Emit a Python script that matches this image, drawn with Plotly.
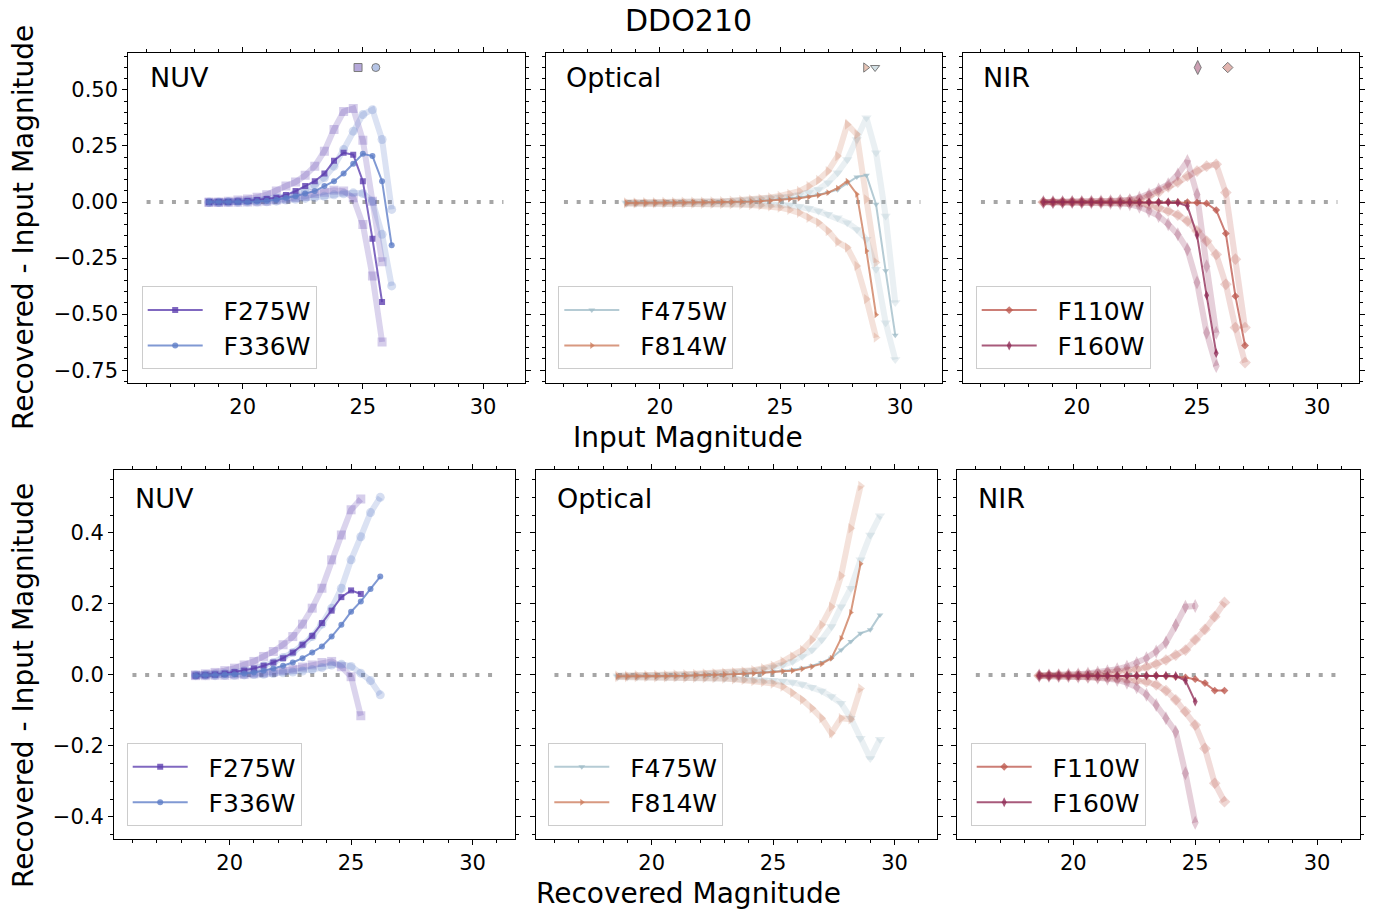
import plotly.graph_objects as go

W, H = 1376, 910
FONT = "DejaVu Sans"

# ---------------- data: top row (x = input magnitude) ----------------
IN_F275W = [18.6, 19.0, 19.4, 19.8, 20.2, 20.6, 21.0, 21.4, 21.8, 22.2, 22.6, 23.0, 23.4, 23.8, 24.2, 24.6, 25.0, 25.4, 25.8]
IN_F336W = [18.6, 19.0, 19.4, 19.8, 20.2, 20.6, 21.0, 21.4, 21.8, 22.2, 22.6, 23.0, 23.4, 23.8, 24.2, 24.6, 25.0, 25.4, 25.8, 26.2]
IN_F475W = [18.6, 19.0, 19.4, 19.8, 20.2, 20.6, 21.0, 21.4, 21.8, 22.2, 22.6, 23.0, 23.4, 23.8, 24.2, 24.6, 25.0, 25.4, 25.8, 26.2,
            26.6, 27.0, 27.4, 27.8, 28.2, 28.6, 29.0, 29.4, 29.8]
IN_F814W = [18.6, 19.0, 19.4, 19.8, 20.2, 20.6, 21.0, 21.4, 21.8, 22.2, 22.6, 23.0, 23.4, 23.8, 24.2, 24.6, 25.0, 25.4, 25.8, 26.2,
            26.6, 27.0, 27.4, 27.8, 28.2, 28.6, 29.0]
IN_F110W = [18.6, 19.0, 19.4, 19.8, 20.2, 20.6, 21.0, 21.4, 21.8, 22.2, 22.6, 23.0, 23.4, 23.8, 24.2, 24.6, 25.0, 25.4, 25.8, 26.2,
            26.6, 27.0]
IN_F160W = [18.6, 19.0, 19.4, 19.8, 20.2, 20.6, 21.0, 21.4, 21.8, 22.2, 22.6, 23.0, 23.4, 23.8, 24.2, 24.6, 25.0, 25.4, 25.8]

IN_MED_F275W = [0.0, 0.0, 0.0, 0.002, 0.005, 0.009, 0.013, 0.019, 0.031, 0.049, 0.071, 0.093, 0.127, 0.184, 0.22, 0.211, 0.093, -0.164, -0.446]
IN_HI_F275W = [0.0, 0.0, 0.003, 0.009, 0.013, 0.021, 0.033, 0.049, 0.071, 0.089, 0.119, 0.16, 0.227, 0.324, 0.404, 0.417, 0.276, 0.004, -0.266]
IN_LO_F275W = [-0.002, -0.002, -0.002, -0.001, 0.0, 0.001, 0.004, 0.009, 0.013, 0.019, 0.026, 0.038, 0.044, 0.053, 0.049, 0.019, -0.1, -0.33, -0.624]

IN_MED_F336W = [0.0, 0.0, 0.0, 0.0, 0.001, 0.003, 0.006, 0.010, 0.019, 0.026, 0.038, 0.049, 0.071, 0.093, 0.127, 0.171, 0.215, 0.205, 0.093, -0.193]
IN_HI_F336W = [0.0, 0.0, 0.002, 0.003, 0.005, 0.008, 0.012, 0.018, 0.026, 0.038, 0.055, 0.077, 0.108, 0.16, 0.234, 0.316, 0.39, 0.412, 0.279, -0.033]
IN_LO_F336W = [-0.002, -0.002, -0.001, -0.001, 0.0, 0.0, 0.001, 0.004, 0.009, 0.012, 0.016, 0.02, 0.026, 0.032, 0.037, 0.041, 0.038, 0.004, -0.144, -0.374]

IN_MED_F475W = [-0.004, -0.004, -0.004, -0.004, -0.004, -0.003, -0.003, -0.003, -0.002, -0.002, -0.001, 0.0, 0.001, 0.003, 0.005,
                0.008, 0.011, 0.015, 0.02, 0.025, 0.032, 0.042, 0.055, 0.085, 0.112, 0.12, -0.01, -0.307, -0.594]
IN_HI_F475W = [-0.002, -0.002, -0.002, -0.001, -0.001, 0.0, 0.0, 0.001, 0.002, 0.003, 0.004, 0.006, 0.008, 0.011, 0.014,
               0.018, 0.021, 0.024, 0.031, 0.042, 0.056, 0.086, 0.131, 0.19, 0.279, 0.376, 0.22, -0.062, -0.448]
IN_LO_F475W = [-0.006, -0.006, -0.006, -0.006, -0.006, -0.006, -0.006, -0.006, -0.006, -0.007, -0.007, -0.008, -0.009, -0.01, -0.011,
               -0.012, -0.012, -0.014, -0.02, -0.029, -0.04, -0.055, -0.07, -0.092, -0.122, -0.166, -0.3, -0.538, -0.702]

IN_MED_F814W = [-0.004, -0.004, -0.004, -0.004, -0.003, -0.003, -0.003, -0.002, -0.002, -0.001, 0.0, 0.0, 0.001, 0.002, 0.004,
                0.006, 0.009, 0.013, 0.017, 0.022, 0.03, 0.042, 0.062, 0.093, 0.035, -0.218, -0.503]
IN_HI_F814W = [-0.002, -0.002, -0.001, -0.001, 0.0, 0.0, 0.001, 0.001, 0.002, 0.003, 0.004, 0.006, 0.008, 0.011, 0.015,
               0.02, 0.027, 0.036, 0.049, 0.071, 0.098, 0.138, 0.205, 0.346, 0.302, 0.012, -0.27]
IN_LO_F814W = [-0.006, -0.006, -0.006, -0.006, -0.006, -0.007, -0.007, -0.007, -0.008, -0.008, -0.009, -0.01, -0.011, -0.013, -0.015,
               -0.019, -0.025, -0.035, -0.048, -0.07, -0.092, -0.129, -0.178, -0.203, -0.285, -0.433, -0.604]

IN_MED_F110W = [0.0, 0.0, 0.0, 0.0, 0.0, 0.0, 0.0, 0.0, 0.0, 0.0, 0.0, 0.0, 0.0, 0.0, -0.001, -0.001, -0.003, -0.006, -0.036, -0.14, -0.42, -0.64]
IN_HI_F110W = [0.0, 0.0, 0.0, 0.001, 0.001, 0.002, 0.003, 0.004, 0.006, 0.009, 0.012, 0.027, 0.044, 0.068, 0.089, 0.116, 0.138, 0.16, 0.168, 0.042, -0.255, -0.56]
IN_LO_F110W = [-0.001, -0.001, -0.001, -0.001, -0.002, -0.002, -0.003, -0.003, -0.004, -0.005, -0.006, -0.015, -0.025, -0.04, -0.058, -0.085, -0.129, -0.174, -0.234, -0.367, -0.56, -0.716]

IN_MED_F160W = [0.0, 0.0, 0.0, 0.0, 0.0, 0.0, 0.0, 0.0, 0.0, 0.0, 0.0, 0.0, 0.0, 0.0, -0.003, -0.018, -0.147, -0.416, -0.674]
IN_HI_F160W = [0.0, 0.0, 0.0, 0.001, 0.001, 0.002, 0.003, 0.005, 0.007, 0.009, 0.019, 0.034, 0.056, 0.079, 0.123, 0.183, 0.034, -0.286, -0.583]
IN_LO_F160W = [-0.001, -0.001, -0.001, -0.001, -0.002, -0.002, -0.003, -0.004, -0.006, -0.01, -0.021, -0.04, -0.062, -0.099, -0.144, -0.211, -0.359, -0.583, -0.731]

# completeness-limit markers shown at the top of the upper panels
LIMIT_MAG = {"F275W": 24.80, "F336W": 25.54, "F814W": 28.57, "F475W": 28.96, "F160W": 25.03, "F110W": 26.28}
LIMIT_Y = 0.6

# ---------------- data: bottom row (x = recovered magnitude) ----------------
REC_F275W = [18.6, 19.0, 19.4, 19.8, 20.2, 20.6, 21.0, 21.4, 21.8, 22.2, 22.6, 23.0, 23.4, 23.8, 24.2, 24.6, 25.0, 25.4]
REC_F336W = [18.6, 19.0, 19.4, 19.8, 20.2, 20.6, 21.0, 21.4, 21.8, 22.2, 22.6, 23.0, 23.4, 23.8, 24.2, 24.6, 25.0, 25.4, 25.8, 26.2]
REC_F475W = [18.6, 19.0, 19.4, 19.8, 20.2, 20.6, 21.0, 21.4, 21.8, 22.2, 22.6, 23.0, 23.4, 23.8, 24.2, 24.6, 25.0, 25.4, 25.8, 26.2,
             26.6, 27.0, 27.4, 27.8, 28.2, 28.6, 29.0, 29.4]
REC_F814W = [18.6, 19.0, 19.4, 19.8, 20.2, 20.6, 21.0, 21.4, 21.8, 22.2, 22.6, 23.0, 23.4, 23.8, 24.2, 24.6, 25.0, 25.4, 25.8, 26.2,
             26.6, 27.0, 27.4, 27.8, 28.2, 28.6]
REC_F110W = [18.6, 19.0, 19.4, 19.8, 20.2, 20.6, 21.0, 21.4, 21.8, 22.2, 22.6, 23.0, 23.4, 23.8, 24.2, 24.6, 25.0, 25.4, 25.8, 26.2]
REC_F160W = [18.6, 19.0, 19.4, 19.8, 20.2, 20.6, 21.0, 21.4, 21.8, 22.2, 22.6, 23.0, 23.4, 23.8, 24.2, 24.6, 25.0]

REC_MED_F275W = [-0.002, -0.001, 0.001, 0.004, 0.008, 0.012, 0.018, 0.026, 0.035, 0.047, 0.063, 0.085, 0.11, 0.146, 0.181, 0.219, 0.238, 0.228]
REC_HI_F275W = [0.0, 0.003, 0.007, 0.012, 0.019, 0.028, 0.038, 0.052, 0.066, 0.085, 0.108, 0.143, 0.188, 0.244, 0.324, 0.394, 0.465, 0.495]
REC_LO_F275W = [-0.002, -0.002, -0.001, -0.001, 0.0, 0.001, 0.003, 0.005, 0.008, 0.012, 0.016, 0.022, 0.028, 0.035, 0.038, 0.023, -0.005, -0.115]

REC_MED_F336W = [-0.002, -0.001, 0.0, 0.001, 0.002, 0.004, 0.007, 0.012, 0.018, 0.026, 0.035, 0.047, 0.063, 0.08, 0.108, 0.141, 0.178, 0.207, 0.242, 0.277]
REC_HI_F336W = [0.0, 0.001, 0.002, 0.004, 0.007, 0.012, 0.016, 0.026, 0.035, 0.049, 0.063, 0.085, 0.108, 0.143, 0.188, 0.244, 0.324, 0.389, 0.457, 0.5]
REC_LO_F336W = [-0.002, -0.002, -0.002, -0.001, -0.001, 0.0, 0.001, 0.002, 0.004, 0.006, 0.008, 0.011, 0.015, 0.021, 0.028, 0.03, 0.024, 0.005, -0.016, -0.056]

REC_MED_F475W = [-0.004, -0.004, -0.004, -0.003, -0.003, -0.003, -0.002, -0.002, -0.001, -0.001, 0.0, 0.001, 0.002, 0.003, 0.005,
                 0.007, 0.009, 0.011, 0.014, 0.019, 0.025, 0.035, 0.047, 0.07, 0.094, 0.117, 0.127, 0.169]
REC_HI_F475W = [-0.002, -0.002, -0.002, -0.001, -0.001, 0.0, 0.0, 0.001, 0.002, 0.003, 0.004, 0.005, 0.007, 0.009, 0.012,
                0.016, 0.021, 0.028, 0.038, 0.052, 0.07, 0.099, 0.136, 0.192, 0.244, 0.324, 0.394, 0.448]
REC_LO_F475W = [-0.006, -0.006, -0.006, -0.006, -0.006, -0.007, -0.007, -0.007, -0.008, -0.008, -0.009, -0.01, -0.011, -0.012, -0.013,
                -0.014, -0.015, -0.017, -0.021, -0.027, -0.035, -0.045, -0.061, -0.08, -0.122, -0.178, -0.235, -0.181]

REC_MED_F814W = [-0.004, -0.004, -0.004, -0.003, -0.003, -0.003, -0.002, -0.002, -0.001, -0.001, 0.0, 0.001, 0.002, 0.003, 0.004,
                 0.006, 0.008, 0.01, 0.012, 0.017, 0.023, 0.031, 0.047, 0.103, 0.176, 0.313]
REC_HI_F814W = [-0.002, -0.002, -0.001, -0.001, 0.0, 0.0, 0.001, 0.002, 0.003, 0.004, 0.005, 0.006, 0.008, 0.01, 0.013,
                0.019, 0.026, 0.038, 0.052, 0.07, 0.099, 0.141, 0.192, 0.279, 0.413, 0.532]
REC_LO_F814W = [-0.006, -0.006, -0.006, -0.006, -0.007, -0.007, -0.007, -0.008, -0.008, -0.009, -0.009, -0.01, -0.012, -0.014, -0.017,
                -0.02, -0.024, -0.033, -0.05, -0.07, -0.094, -0.122, -0.164, -0.122, -0.125, -0.038]

REC_MED_F110W = [-0.002, -0.002, -0.002, -0.002, -0.002, -0.002, -0.002, -0.002, -0.002, -0.002, -0.002, -0.002, -0.002, -0.003,
                 -0.005, -0.007, -0.012, -0.023, -0.044, -0.044]
REC_HI_F110W = [-0.001, -0.001, 0.0, 0.0, 0.001, 0.002, 0.004, 0.006, 0.009, 0.012, 0.016, 0.022, 0.03, 0.042, 0.056, 0.07, 0.099, 0.128, 0.164, 0.204]
REC_LO_F110W = [-0.003, -0.003, -0.004, -0.004, -0.005, -0.006, -0.007, -0.008, -0.01, -0.012, -0.015, -0.019, -0.028, -0.044, -0.07,
                -0.103, -0.141, -0.207, -0.305, -0.357]

REC_MED_F160W = [-0.002, -0.002, -0.002, -0.002, -0.002, -0.002, -0.002, -0.002, -0.002, -0.002, -0.002, -0.002, -0.002, -0.002,
                 -0.003, -0.016, -0.075]
REC_HI_F160W = [-0.001, -0.001, 0.0, 0.001, 0.002, 0.004, 0.007, 0.01, 0.016, 0.023, 0.033, 0.047, 0.066, 0.091, 0.14, 0.192, 0.194]
REC_LO_F160W = [-0.003, -0.003, -0.004, -0.004, -0.005, -0.006, -0.008, -0.011, -0.014, -0.022, -0.035, -0.056, -0.085, -0.122,
                -0.16, -0.277, -0.416]

# ---------------- styles ----------------
COLORS = {
    "F275W": (92, 61, 174),
    "F336W": (92, 124, 199),
    "F475W": (160, 188, 200),
    "F814W": (205, 124, 92),
    "F110W": (190, 90, 80),
    "F160W": (143, 43, 86),
}
SYMBOLS = {
    "F275W": "square", "F336W": "circle", "F475W": "triangle-down",
    "F814W": "triangle-right", "F110W": "diamond", "F160W": "diamond-tall",
}

TOP = {
    "F275W": (IN_F275W, IN_MED_F275W, IN_HI_F275W, IN_LO_F275W),
    "F336W": (IN_F336W, IN_MED_F336W, IN_HI_F336W, IN_LO_F336W),
    "F475W": (IN_F475W, IN_MED_F475W, IN_HI_F475W, IN_LO_F475W),
    "F814W": (IN_F814W, IN_MED_F814W, IN_HI_F814W, IN_LO_F814W),
    "F110W": (IN_F110W, IN_MED_F110W, IN_HI_F110W, IN_LO_F110W),
    "F160W": (IN_F160W, IN_MED_F160W, IN_HI_F160W, IN_LO_F160W),
}
BOT = {
    "F275W": (REC_F275W, REC_MED_F275W, REC_HI_F275W, REC_LO_F275W),
    "F336W": (REC_F336W, REC_MED_F336W, REC_HI_F336W, REC_LO_F336W),
    "F475W": (REC_F475W, REC_MED_F475W, REC_HI_F475W, REC_LO_F475W),
    "F814W": (REC_F814W, REC_MED_F814W, REC_HI_F814W, REC_LO_F814W),
    "F110W": (REC_F110W, REC_MED_F110W, REC_HI_F110W, REC_LO_F110W),
    "F160W": (REC_F160W, REC_MED_F160W, REC_HI_F160W, REC_LO_F160W),
}

GROUPS = [("NUV", ["F275W", "F336W"]), ("Optical", ["F475W", "F814W"]), ("NIR", ["F110W", "F160W"])]


def rgba(c, a):
    return f"rgba({c[0]},{c[1]},{c[2]},{a})"


def fx(px):
    return px / W


def fy(py):
    return 1 - py / H


# panel pixel boxes (left, right, top, bottom)
TOP_BOX = [(128.3, 525.3), (545.7, 942.3), (962.7, 1359.3)]
TOP_Y = (52.5, 382.5)
BOT_BOX = [(114.0, 515.3), (536.0, 937.3), (957.3, 1360.0)]
BOT_Y = (470.0, 839.0)

fig = go.Figure()

for row in range(2):
    data = TOP if row == 0 else BOT
    for col, (gname, filters) in enumerate(GROUPS):
        idx = row * 3 + col + 1
        xa = "x" if idx == 1 else f"x{idx}"
        ya = "y" if idx == 1 else f"y{idx}"
        leg = "legend" if idx == 1 else f"legend{idx}"
        # zero reference line
        fig.add_trace(go.Scatter(x=[16, 30.85], y=[0, 0], mode="lines", xaxis=xa, yaxis=ya,
                                 line=dict(color="#a6a6a6", width=4, dash="4px,8.7px"),
                                 showlegend=False, hoverinfo="skip"))
        # faint percentile bands
        for f in filters:
            xs, med, hi, lo = data[f]
            c = COLORS[f]
            for ys in (hi, lo):
                fig.add_trace(go.Scatter(
                    x=xs, y=ys, mode="lines+markers", xaxis=xa, yaxis=ya,
                    line=dict(color=rgba(c, 0.22), width=6),
                    marker=dict(symbol=SYMBOLS[f], size=9 if f != "F160W" else 10,
                                color=rgba(c, 0.25), line=dict(width=0)),
                    showlegend=False, hoverinfo="skip"))
        # medians
        for f in filters:
            xs, med, hi, lo = data[f]
            c = COLORS[f]
            fig.add_trace(go.Scatter(
                x=xs, y=med, mode="lines+markers", xaxis=xa, yaxis=ya,
                name="\u00a0\u00a0" + f, legend=leg,
                line=dict(color=rgba(c, 0.78), width=2),
                marker=dict(symbol=SYMBOLS[f], size=6 if f != "F160W" else 7,
                            color=rgba(c, 0.78), line=dict(width=0)),
                showlegend=True))
        # limit markers
        if row == 0:
            for f in filters:
                c = COLORS[f]
                fig.add_trace(go.Scatter(
                    x=[LIMIT_MAG[f]], y=[LIMIT_Y], mode="markers", xaxis=xa, yaxis=ya,
                    marker=dict(symbol=SYMBOLS[f], size=8 if f != "F160W" else 10,
                                color=rgba(c, 0.45), line=dict(color="#7a7a7a", width=1)),
                    showlegend=False, hoverinfo="skip"))

axis_common = dict(showline=True, linecolor="black", linewidth=1, mirror="allticks",
                   ticks="outside", ticklen=5, tickwidth=1, tickcolor="black",
                   showgrid=False, zeroline=False,
                   tickfont=dict(family=FONT, size=21, color="black"))

layout = dict(
    width=W, height=H, margin=dict(l=0, r=0, t=0, b=0),
    paper_bgcolor="white", plot_bgcolor="white",
    font=dict(family=FONT, color="black"),
)

for row in range(2):
    boxes = TOP_BOX if row == 0 else BOT_BOX
    ytop, ybot = TOP_Y if row == 0 else BOT_Y
    for col in range(3):
        idx = row * 3 + col + 1
        xk = "xaxis" if idx == 1 else f"xaxis{idx}"
        yk = "yaxis" if idx == 1 else f"yaxis{idx}"
        xa = "x" if idx == 1 else f"x{idx}"
        ya = "y" if idx == 1 else f"y{idx}"
        l, r = boxes[col]
        layout[xk] = dict(axis_common, domain=[fx(l), fx(r)], anchor=ya, range=[15.24, 31.76],
                          tickvals=[20, 25, 30],
                          minor=dict(ticks="outside", dtick=1, tick0=0, ticklen=3, tickwidth=1, tickcolor="black"))
        if row == 0:
            ydict = dict(range=[-0.805, 0.667], tickvals=[-0.75, -0.5, -0.25, 0, 0.25, 0.5], tickformat=".2f")
        else:
            ydict = dict(range=[-0.462, 0.577], tickvals=[-0.4, -0.2, 0, 0.2, 0.4], tickformat=".1f")
        layout[yk] = dict(axis_common, domain=[fy(ybot), fy(ytop)], anchor=xa,
                          showticklabels=(col == 0),
                          minor=dict(ticks="outside", dtick=0.05, tick0=0, ticklen=3, tickwidth=1, tickcolor="black"),
                          **ydict)

# legends
LEG_POS = [(141.7, 369.3), (558.3, 369.3), (975.7, 369.3), (126.7, 826.0), (548.3, 826.0), (970.7, 826.0)]
for i, (lx, lb) in enumerate(LEG_POS):
    key = "legend" if i == 0 else f"legend{i + 1}"
    layout[key] = dict(x=fx(lx), y=fy(lb), xanchor="left", yanchor="bottom",
                       bgcolor="rgba(255,255,255,0.8)", bordercolor="#cccccc", borderwidth=1,
                       font=dict(family=FONT, size=25, color="black"), itemwidth=55,
                       tracegroupgap=0)

annotations = []


def add_text(text, px, py, size, xanchor="center", angle=0):
    annotations.append(dict(text=text, x=fx(px), y=fy(py), xref="paper", yref="paper",
                            xanchor=xanchor, yanchor="middle", showarrow=False, textangle=angle,
                            font=dict(family=FONT, size=size, color="black")))


add_text("DDO210", 688, 20, 30)
add_text("Input Magnitude", 688, 437, 28)
add_text("Recovered Magnitude", 688, 893, 28)
add_text("Recovered - Input Magnitude", 23, 228, 28, angle=-90)
add_text("Recovered - Input Magnitude", 23, 686, 28, angle=-90)
for (gname, _), px in zip(GROUPS, [148, 564, 981]):
    add_text(gname, px, 77, 27, xanchor="left")
for (gname, _), px in zip(GROUPS, [133, 555, 976]):
    add_text(gname, px, 498, 27, xanchor="left")

layout["annotations"] = annotations
fig.update_layout(**layout)

fig.write_html("out.html", include_plotlyjs=True, config={"displayModeBar": False},
               post_script="document.body.style.margin='0';")
